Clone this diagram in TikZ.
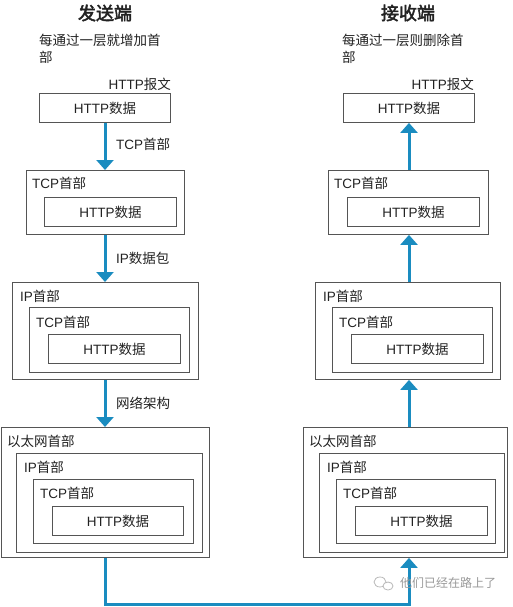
\documentclass[tikz,border=0pt]{standalone}
\usepackage{fontspec}
\setmainfont{Noto Sans CJK SC}[AutoFakeBold=2.5]
\newfontfamily\latfont{Liberation Sans}
\newcommand\lt[1]{{\latfont #1}}
\usetikzlibrary{arrows.meta}
\definecolor{boxline}{HTML}{555555}
\definecolor{flow}{HTML}{1A8CC0}
\definecolor{txt}{HTML}{222222}
\begin{document}
\begin{tikzpicture}[x=1pt,y=-1pt,
  lbl/.style={inner sep=0pt,text=txt,font=\fontsize{13.5}{15}\selectfont},
  box/.style={draw=boxline,line width=0.9pt,inner sep=0pt,anchor=north west},
  arr/.style={draw=flow,line width=3pt,-{Triangle[width=17pt,length=10pt]}}]
\useasboundingbox[fill=white] (0,0) rectangle (512,607);
% titles
\node[lbl,font=\fontsize{18}{20}\selectfont\bfseries] (tl) at (105,13) {发送端};
\node[lbl,font=\fontsize{18}{20}\selectfont\bfseries] (tr) at (408,13) {接收端};
\node[lbl,anchor=west] (dl1) at (39,40) {每通过一层就增加首};
\node[lbl,anchor=west] (dl2) at (39,57) {部};
\node[lbl,anchor=west] (dr1) at (342,40) {每通过一层则删除首};
\node[lbl,anchor=west] (dr2) at (342,57) {部};
% ---------- left column ----------
\node[lbl,anchor=east] (lm) at (171,84) {\lt{HTTP}报文};
\node[box,minimum width=131pt,minimum height=29pt] (L1) at (39,93) {};
\node[lbl] at (L1.center) {\lt{HTTP}数据};

\node[box,minimum width=158pt,minimum height=64pt] (L2) at (26,170) {};
\node[lbl,anchor=west] (L2t) at (32,183) {\lt{TCP}首部};
\node[box,minimum width=132pt,minimum height=29pt] (L2a) at (44,197) {};
\node[lbl] at (L2a.center) {\lt{HTTP}数据};

\node[box,minimum width=186pt,minimum height=97pt] (L3) at (12,282) {};
\node[lbl,anchor=west] (L3t) at (20,296) {\lt{IP}首部};
\node[box,minimum width=160pt,minimum height=65pt] (L3a) at (29,307) {};
\node[lbl,anchor=west] (L3at) at (36,322) {\lt{TCP}首部};
\node[box,minimum width=132pt,minimum height=29pt] (L3b) at (48,334) {};
\node[lbl] at (L3b.center) {\lt{HTTP}数据};

\node[box,minimum width=208pt,minimum height=130pt] (L4) at (1,427) {};
\node[lbl,anchor=west] (L4t) at (7,441) {以太网首部};
\node[box,minimum width=186pt,minimum height=99pt] (L4a) at (16,453) {};
\node[lbl,anchor=west] (L4at) at (24,467) {\lt{IP}首部};
\node[box,minimum width=160pt,minimum height=64pt] (L4b) at (33,479) {};
\node[lbl,anchor=west] (L4bt) at (40,493) {\lt{TCP}首部};
\node[box,minimum width=131pt,minimum height=29pt] (L4c) at (52,506) {};
\node[lbl] at (L4c.center) {\lt{HTTP}数据};

\coordinate (lx) at (105,0);
\draw[arr] (L1.south -| lx) -- (L2.north -| lx);
\draw[arr] (L2.south -| lx) -- (L3.north -| lx);
\draw[arr] (L3.south -| lx) -- (L4.north -| lx);
\node[lbl,anchor=west] (a1) at (116,144) {\lt{TCP}首部};
\node[lbl,anchor=west] (a2) at (116,258) {\lt{IP}数据包};
\node[lbl,anchor=west] (a3) at (116,403) {网络架构};

% ---------- right column ----------
\node[lbl,anchor=east] (rm) at (474,84) {\lt{HTTP}报文};
\node[box,minimum width=131pt,minimum height=29pt] (R1) at (343,93) {};
\node[lbl] at (R1.center) {\lt{HTTP}数据};

\node[box,minimum width=160pt,minimum height=64pt] (R2) at (328,170) {};
\node[lbl,anchor=west] (R2t) at (334,183) {\lt{TCP}首部};
\node[box,minimum width=132pt,minimum height=29pt] (R2a) at (347,197) {};
\node[lbl] at (R2a.center) {\lt{HTTP}数据};

\node[box,minimum width=185pt,minimum height=97pt] (R3) at (315,282) {};
\node[lbl,anchor=west] (R3t) at (323,296) {\lt{IP}首部};
\node[box,minimum width=160pt,minimum height=65pt] (R3a) at (332,307) {};
\node[lbl,anchor=west] (R3at) at (339,322) {\lt{TCP}首部};
\node[box,minimum width=132pt,minimum height=29pt] (R3b) at (351,334) {};
\node[lbl] at (R3b.center) {\lt{HTTP}数据};

\node[box,minimum width=204pt,minimum height=130pt] (R4) at (303,427) {};
\node[lbl,anchor=west] (R4t) at (309,441) {以太网首部};
\node[box,minimum width=185pt,minimum height=99pt] (R4a) at (319,453) {};
\node[lbl,anchor=west] (R4at) at (327,467) {\lt{IP}首部};
\node[box,minimum width=159pt,minimum height=64pt] (R4b) at (336,479) {};
\node[lbl,anchor=west] (R4bt) at (343,493) {\lt{TCP}首部};
\node[box,minimum width=132pt,minimum height=29pt] (R4c) at (355,506) {};
\node[lbl] at (R4c.center) {\lt{HTTP}数据};

\coordinate (rx) at (409,0);
\draw[arr] (R2.north -| rx) -- (R1.south -| rx);
\draw[arr] (R3.north -| rx) -- (R2.south -| rx);
\draw[arr] (R4.north -| rx) -- (R3.south -| rx);

% bottom link
\coordinate (by) at (0,604);
\draw[arr] (L4.south -| lx) -- (lx |- by) -- (rx |- by) -- (R4.south -| rx);

% watermark
\node[lbl,anchor=west,text=gray!80,font=\fontsize{12}{14}\selectfont] (wm) at (400,583) {他们已经在路上了};
\draw[gray!55,line width=0.8pt] (380,582) ellipse (6pt and 5pt);
\draw[gray!55,line width=0.8pt,fill=white] (388,586) ellipse (5pt and 4pt);
\end{tikzpicture}
\end{document}
